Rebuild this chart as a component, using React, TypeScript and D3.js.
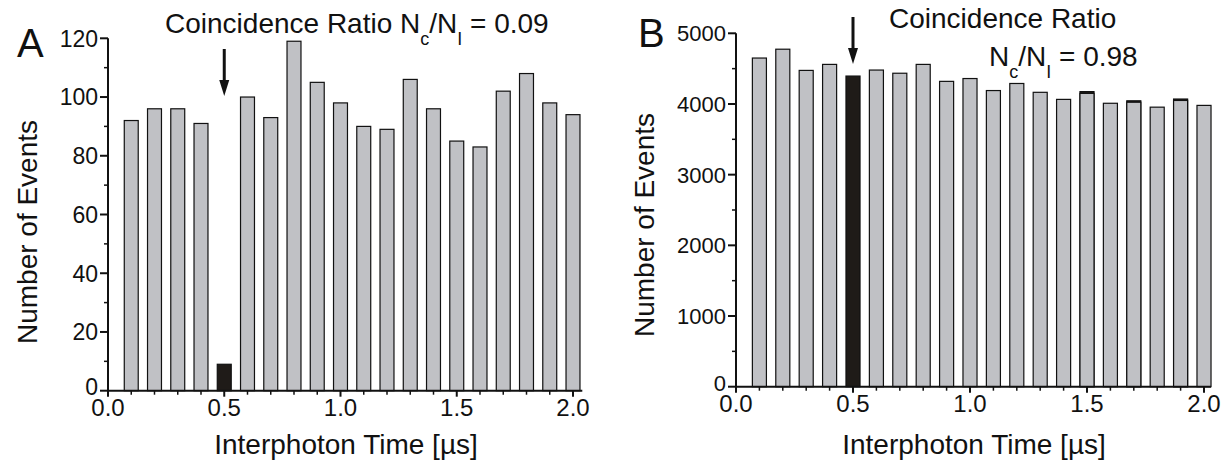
import React from "react";
import * as d3 from "d3";

// ---- data ----
const times = [0.1, 0.2, 0.3, 0.4, 0.5, 0.6, 0.7, 0.8, 0.9, 1.0, 1.1, 1.2, 1.3, 1.4, 1.5, 1.6, 1.7, 1.8, 1.9, 2.0];
const grayA = [92, 96, 96, 91, null, 100, 93, 119, 105, 98, 90, 89, 106, 96, 85, 83, 102, 108, 98, 94];
const blackA = [null, null, null, null, 9, null, null, null, null, null, null, null, null, null, null, null, null, null, null, null];
const grayB = [4650, 4775, 4475, 4560, null, 4480, 4435, 4560, 4320, 4360, 4190, 4290, 4165, 4065, 4150, 4010, 4025, 3955, 4050, 3980];
const blackB = [null, null, null, null, 4395, null, null, null, null, null, null, null, null, null, 4175, null, 4045, null, 4070, null];
const xTicks = [0, 0.5, 1.0, 1.5, 2.0];
const xTickLabels = ["0.0", "0.5", "1.0", "1.5", "2.0"];
const yTicksA = [0, 20, 40, 60, 80, 100, 120];
const yTicksB = [0, 1000, 2000, 3000, 4000, 5000];
const xTitle = "Interphoton Time [µs]";
const yTitle = "Number of Events";

const FONT = "'Liberation Sans', Arial, Helvetica, sans-serif";
const GRAY = "#c0c1c5";
const BLACK = "#1f1b18";

type PanelCfg = {
  left: number; x2: number; xEnd: number; top: number; bottom: number;
  yMax: number; yTicks: number[]; yMinorStep: number;
  gray: (number | null)[]; black: (number | null)[];
  letter: string; letterX: number; letterY: number;
  yTitleX: number; yTitleY: number; xTitleX: number; xTitleY: number;
  yLabelSize: number; arrowTop: number; arrowTip: number;
  title: React.ReactNode;
};

function Panel({ p }: { p: PanelCfg }) {
  const x = d3.scaleLinear().domain([0, 2]).range([p.left, p.x2]);
  const y = d3.scaleLinear().domain([0, p.yMax]).range([p.bottom, p.top]);
  const bw = x(0.06) - x(0);
  const minorX = d3.range(1, 21).map((i) => i / 10).filter((v) => Math.abs(v * 2 - Math.round(v * 2)) > 1e-6);
  const minorY = d3.range(p.yMinorStep, p.yMax, p.yMinorStep * 2);
  const ax = x(0.5);
  const bars = (vals: (number | null)[], fill: string) =>
    times.map((t, i) =>
      vals[i] == null ? null : (
        <rect key={fill + i} x={x(t) - bw / 2} y={y(vals[i] as number)} width={bw}
          height={y(0) - y(vals[i] as number)} fill={fill} stroke="#111" strokeWidth={1.2} />
      )
    );
  return (
    <g fontFamily={FONT} fill="#111">
      {bars(p.black, BLACK)}
      {bars(p.gray, GRAY)}
      {/* axes */}
      <line x1={x(0)} x2={x(p.xEnd)} y1={y(0)} y2={y(0)} stroke="#111" strokeWidth={2} />
      <line x1={x(0)} x2={x(0)} y1={y(0) + 1} y2={y(p.yMax)} stroke="#111" strokeWidth={2} />
      {xTicks.map((t, i) => (
        <g key={"xt" + i}>
          <line x1={x(t)} x2={x(t)} y1={y(0)} y2={y(0) + 6} stroke="#111" strokeWidth={2} />
          <text x={x(t)} y={y(0) + 25} textAnchor="middle" fontSize={24}>{xTickLabels[i]}</text>
        </g>
      ))}
      {minorX.map((t, i) => (
        <line key={"xm" + i} x1={x(t)} x2={x(t)} y1={y(0)} y2={y(0) + 4} stroke="#111" strokeWidth={1.5} />
      ))}
      {p.yTicks.map((t, i) => (
        <g key={"yt" + i}>
          <line x1={x(0) - 8} x2={x(0)} y1={y(t)} y2={y(t)} stroke="#111" strokeWidth={2} />
          <text x={x(0) - 10} y={y(t) - (t === 0 ? 4 : 0)} dy="0.36em" textAnchor="end" fontSize={p.yLabelSize}>{t}</text>
        </g>
      ))}
      {minorY.map((t, i) => (
        <line key={"ym" + i} x1={x(0) - 4} x2={x(0)} y1={y(t)} y2={y(t)} stroke="#111" strokeWidth={1.5} />
      ))}
      {/* arrow */}
      <line x1={ax} x2={ax} y1={p.arrowTop} y2={p.arrowTip - 10} stroke="#111" strokeWidth={3} />
      <polygon points={`${ax - 5},${p.arrowTip - 16} ${ax + 5},${p.arrowTip - 16} ${ax},${p.arrowTip}`} fill="#111" />
      {/* labels */}
      <text x={p.letterX} y={p.letterY} fontSize={40}>{p.letter}</text>
      <text transform={`translate(${p.yTitleX},${p.yTitleY}) rotate(-90)`} textAnchor="middle" fontSize={28}>{yTitle}</text>
      <text x={p.xTitleX} y={p.xTitleY} textAnchor="middle" fontSize={28}>{xTitle}</text>
      {p.title}
    </g>
  );
}

const sub = (s: string) => (
  <tspan fontSize={18} dy={12}>{s}</tspan>
);

export default function App() {
  const A: PanelCfg = {
    left: 108, x2: 573, xEnd: 2.04, top: 38.3, bottom: 390.7,
    yMax: 120, yTicks: yTicksA, yMinorStep: 10,
    gray: grayA, black: blackA,
    letter: "A", letterX: 17, letterY: 57,
    yTitleX: 37, yTitleY: 232, xTitleX: 346, xTitleY: 454,
    yLabelSize: 23, arrowTop: 49, arrowTip: 96,
    title: (
      <text x={165} y={33} fontSize={28}>
        Coincidence Ratio N{sub("c")}<tspan dy={-12}>/N</tspan>{sub("I")}<tspan dy={-12}> = 0.09</tspan>
      </text>
    ),
  };
  const B: PanelCfg = {
    left: 736, x2: 1204, xEnd: 2.03, top: 33.3, bottom: 386.7,
    yMax: 5000, yTicks: yTicksB, yMinorStep: 500,
    gray: grayB, black: blackB,
    letter: "B", letterX: 638, letterY: 47,
    yTitleX: 654, yTitleY: 225, xTitleX: 974, xTitleY: 454,
    yLabelSize: 22, arrowTop: 17, arrowTip: 64,
    title: (
      <g>
        <text x={889} y={28} fontSize={28}>Coincidence Ratio</text>
        <text x={989} y={66} fontSize={28}>
          N{sub("c")}<tspan dy={-12}>/N</tspan>{sub("I")}<tspan dy={-12}> = 0.98</tspan>
        </text>
      </g>
    ),
  };
  return (
    <svg width={1228} height={464} style={{ position: "absolute", left: 0, top: 0, background: "#fff" }}>
      <rect width={1228} height={464} fill="#fff" />
      <Panel p={A} />
      <Panel p={B} />
    </svg>
  );
}
